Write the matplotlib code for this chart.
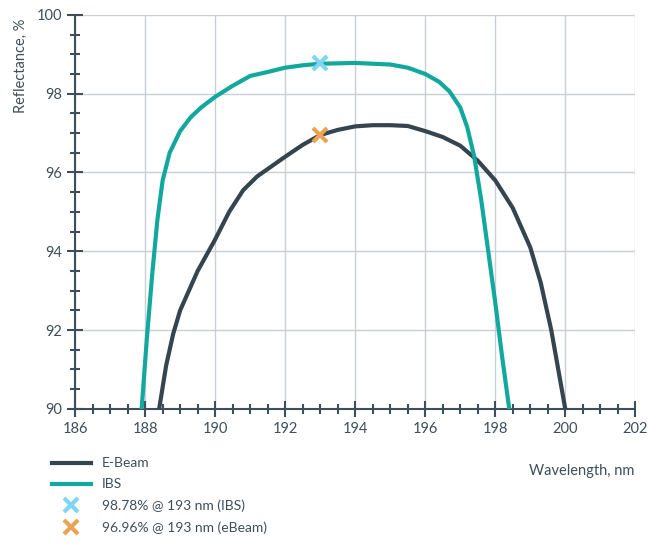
import numpy as np
import matplotlib.pyplot as plt
from matplotlib.ticker import MultipleLocator

plt.rcParams['font.family'] = ['Lato', 'DejaVu Sans']

# IBS coating
ibs_x = [187.9, 188.05, 188.2, 188.35, 188.5, 188.7, 189.0, 189.3, 189.6, 190.0, 190.5,
         191.0, 191.5, 192.0, 192.5, 193.0, 194.0, 195.0, 195.5, 196.0, 196.4, 196.7,
         197.0, 197.2, 197.4, 197.6, 197.8, 198.0, 198.2, 198.4]
ibs_y = [90.0, 91.8, 93.4, 94.8, 95.8, 96.5, 97.05, 97.4, 97.65, 97.92, 98.2,
         98.45, 98.55, 98.66, 98.72, 98.76, 98.78, 98.74, 98.66, 98.5, 98.3, 98.05,
         97.65, 97.15, 96.4, 95.3, 94.0, 92.7, 91.3, 90.0]
# E-Beam coating
eb_x = [188.4, 188.6, 188.8, 189.0, 189.5, 190.0, 190.4, 190.8, 191.2, 191.6, 192.0,
        192.5, 193.0, 193.5, 194.0, 194.5, 195.0, 195.5, 196.0, 196.5, 197.0, 197.5,
        198.0, 198.5, 199.0, 199.3, 199.6, 199.8, 200.0]
eb_y = [90.0, 91.1, 91.9, 92.5, 93.5, 94.3, 95.0, 95.55, 95.9, 96.15, 96.4,
        96.7, 96.95, 97.08, 97.17, 97.2, 97.2, 97.18, 97.05, 96.9, 96.68, 96.3,
        95.8, 95.1, 94.1, 93.2, 92.0, 91.0, 90.0]
marks = [(193, 98.78, '98.78% @ 193 nm (IBS)', '#7fd6f2'),
         (193, 96.96, '96.96% @ 193 nm (eBeam)', '#eba453')]

txt = '#3d4f5a'
fig = plt.figure(figsize=(6.59, 5.51), dpi=100)
ax = fig.add_axes([0.114, 0.258, 0.85, 0.715])
ax.plot(eb_x, eb_y, color='#34454f', lw=3, label='E-Beam', zorder=3)
ax.plot(ibs_x, ibs_y, color='#13a89e', lw=3, label='IBS', zorder=3)
for x, y, lab, c in marks:
    ax.plot(x, y, 'x', ms=10, mew=3, color=c, label=lab, ls='none', zorder=4)

ax.set_xlim(186, 202)
ax.set_ylim(90, 100)
ax.xaxis.set_major_locator(MultipleLocator(2))
ax.xaxis.set_minor_locator(MultipleLocator(0.5))
ax.yaxis.set_major_locator(MultipleLocator(2))
ax.yaxis.set_minor_locator(MultipleLocator(0.5))
ax.grid(True, which='major', color='#c9cfd3', lw=1)
for s in ['top', 'right']:
    ax.spines[s].set_visible(False)
for s in ['left', 'bottom']:
    ax.spines[s].set_color(txt)
    ax.spines[s].set_linewidth(1.5)
ax.tick_params(which='major', direction='inout', length=12, width=1.5, color=txt,
               labelcolor=txt, labelsize=10.5)
ax.tick_params(which='minor', direction='inout', length=7, width=1.5, color=txt)
ax.set_ylabel('Reflectance, %', color=txt, fontsize=10.5)
ax.yaxis.set_label_coords(-0.085, 0.87)
fig.text(0.962, 0.145, 'Wavelength, nm', ha='right', va='center', color=txt, fontsize=10.5)
leg = fig.legend(loc='upper left', bbox_to_anchor=(0.07, 0.18), frameon=False,
                 fontsize=10, handlelength=2.8, labelspacing=0.65, borderaxespad=0)
for t in leg.get_texts():
    t.set_color(txt)
fig.savefig('out.png', dpi=100)
